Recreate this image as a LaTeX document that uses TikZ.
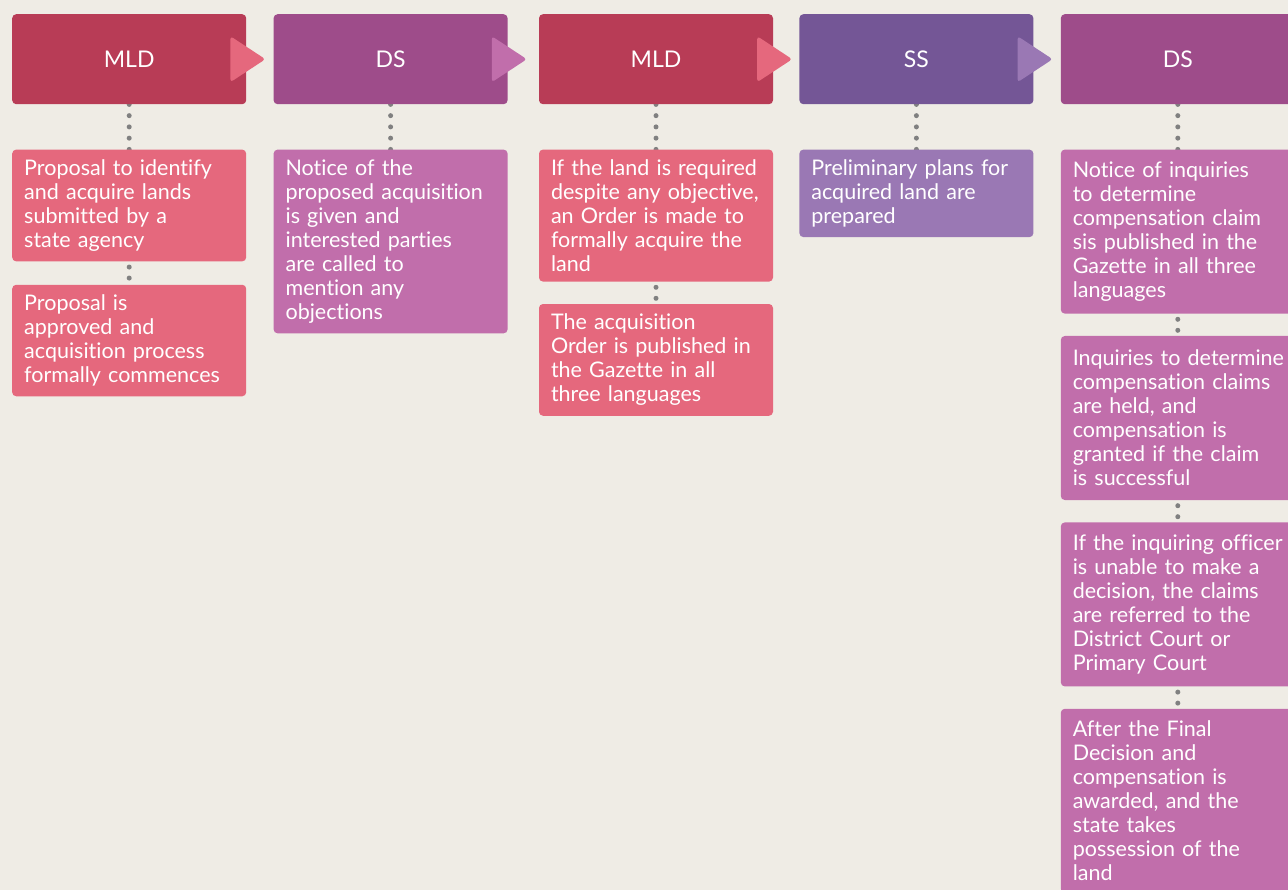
\documentclass[tikz,border=0pt]{standalone}
\usepackage{fontspec}
\setmainfont{Lato}[RawFeature=-liga]
\usepackage{tikz}
\usetikzlibrary{positioning,backgrounds}

\definecolor{bgc}{HTML}{EFECE5}
\definecolor{mldH}{HTML}{B83C56}
\definecolor{mldL}{HTML}{E5687D}
\definecolor{dsH}{HTML}{9E4C8A}
\definecolor{dsL}{HTML}{C16EAB}
\definecolor{ssH}{HTML}{745696}
\definecolor{ssL}{HTML}{9A78B4}
\definecolor{dotc}{HTML}{808080}

\begin{document}
\begin{tikzpicture}[x=1pt,y=1pt,node distance=27pt,
  head node/.style={rounded corners=4pt,minimum width=234pt,minimum height=90pt,
    inner sep=0pt,text=white,font=\fontsize{23}{24}\selectfont},
  info node/.style={rounded corners=4pt,text width=210pt,inner xsep=12pt,inner ysep=10pt,
    align=left,text=white,font=\fontsize{21.5}{24}\selectfont},
  tall node/.style={info node,fill=dsL,inner ysep=12pt,minimum height=164pt},
  dots/.style={dotc,line width=5pt,line cap=round,dash pattern=on 0pt off 11.25pt},
  middots/.style={dotc,line width=5pt,line cap=round,dash pattern=on 0pt off 11pt,dash phase=5.5pt}]
  \useasboundingbox (0,0) rectangle (1288,-890);
  \clip (0,0) rectangle (1288,-890);

  % headers
  \node[head node,fill=mldH,anchor=north west] (h1) at (12,-14) {MLD};
  \node[head node,fill=dsH] (h2) [right=of h1] {DS};
  \node[head node,fill=mldH] (h3) [right=31pt of h2] {MLD};
  \node[head node,fill=ssH] (h4) [right=26pt of h3] {SS};
  \node[head node,fill=dsH] (h5) [right=of h4] {DS};

  % arrow heads
  \foreach \h/\c in {h1/mldL,h2/dsL,h3/mldL,h4/ssL}
    \fill[\c,rounded corners=3pt] ([xshift=-16pt,yshift=23pt]\h.east) -- ([xshift=19pt]\h.east)
      -- ([xshift=-16pt,yshift=-23pt]\h.east) -- cycle;

  % steps
  \node[info node,fill=mldL] (d11) [below=45pt of h1] {Proposal to identify\\and acquire lands\\submitted by a\\state agency};
  \node[info node,fill=mldL] (d12) [below=23pt of d11] {Proposal is\\approved and\\acquisition process\\formally commences};
  \node[info node,fill=dsL] (d21) [below=45pt of h2] {Notice of the\\proposed acquisition\\is given and\\interested parties\\are called to\\mention any\\objections};
  \node[info node,fill=mldL] (d31) [below=45pt of h3] {If the land is required\\despite any objective,\\an Order is made to\\formally acquire the\\land};
  \node[info node,fill=mldL] (d32) [below=22pt of d31] {The acquisition\\Order is published in\\the Gazette in all\\three languages};
  \node[info node,fill=ssL] (d41) [below=45pt of h4] {Preliminary plans for\\acquired land are\\prepared};
  \node[tall node] (d51) [below=45pt of h5] {Notice of inquiries\\to determine\\compensation claim\\sis published in the\\Gazette in all three\\languages};
  \node[tall node] (d52) [below=22pt of d51] {\mbox{Inquiries to determine}\\compensation claims\\are held, and\\compensation is\\granted if the claim\\is successful};
  \node[tall node] (d53) [below=22pt of d52] {\mbox{If the inquiring officer}\\is unable to make a\\decision, the claims\\are referred to the\\District Court or\\Primary Court};
  \node[tall node] (d54) [below=22pt of d53] {After the Final\\Decision and\\compensation is\\awarded, and the\\state takes\\possession of the\\land};

  \begin{scope}[on background layer]
    \fill[bgc] (0,0) rectangle (1288,-890);
    \path[dots] (h1) edge (d11) (h2) edge (d21) (h3) edge (d31) (h4) edge (d41) (h5) edge (d51);
    \path[middots] (d11) edge (d12) (d31) edge (d32) (d51) edge (d52) (d52) edge (d53) (d53) edge (d54);
  \end{scope}
\end{tikzpicture}
\end{document}
